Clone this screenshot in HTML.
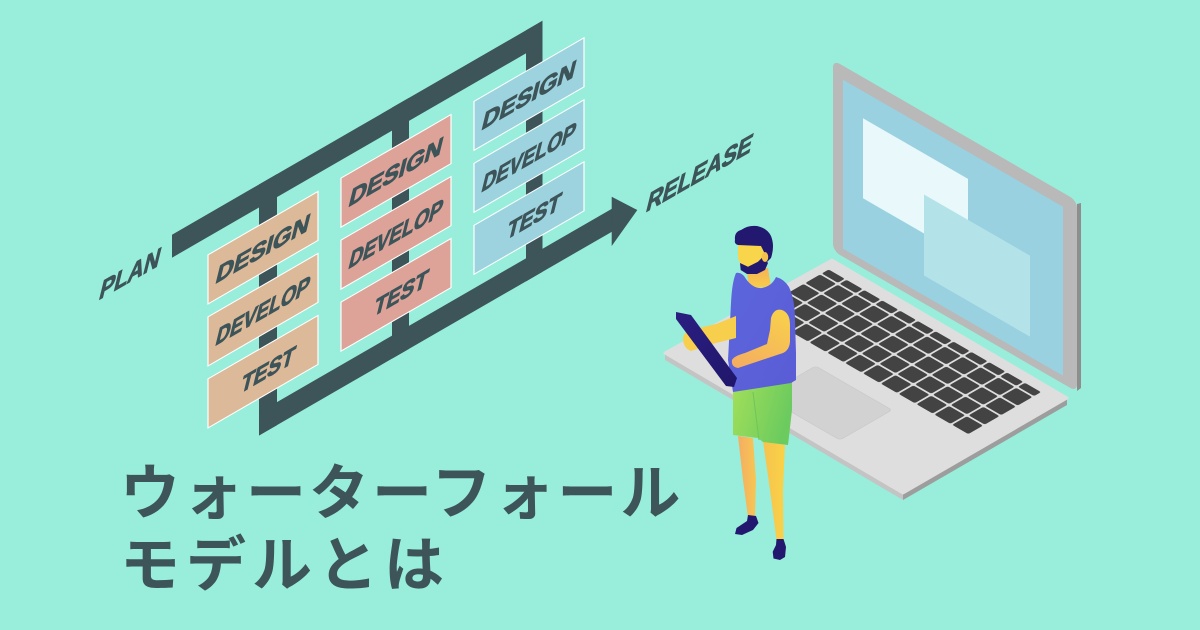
<!DOCTYPE html>
<html>
<head>
<meta charset="utf-8">
<style>
html,body{margin:0;padding:0;background:#98eeda;width:1200px;height:630px;overflow:hidden;}
svg{display:block}
</style>
</head>
<body>
<svg width="1200" height="630" viewBox="0 0 1200 630" xmlns="http://www.w3.org/2000/svg">
<defs>
  <linearGradient id="legL" x1="0" y1="0" x2="1" y2="0">
    <stop offset="0" stop-color="#f4ad62"/><stop offset="1" stop-color="#f7c653"/>
  </linearGradient>
  <linearGradient id="legR" x1="0" y1="0" x2="1" y2="0">
    <stop offset="0" stop-color="#f8c24f"/><stop offset="1" stop-color="#f9d247"/>
  </linearGradient>
  <linearGradient id="shorts" x1="0" y1="0" x2="1" y2="0.3">
    <stop offset="0" stop-color="#a2df5a"/><stop offset="1" stop-color="#6ccb5e"/>
  </linearGradient>
  <linearGradient id="shirt" x1="0" y1="0" x2="1" y2="1">
    <stop offset="0" stop-color="#5c66dd"/><stop offset="1" stop-color="#5a5cd5"/>
  </linearGradient>
  <linearGradient id="arm" x1="0.7" y1="0" x2="0.2" y2="1">
    <stop offset="0" stop-color="#f8cf4c"/><stop offset="1" stop-color="#f4ae60"/>
  </linearGradient>
  <linearGradient id="neck" x1="0" y1="0" x2="0" y2="1">
    <stop offset="0" stop-color="#f5b257"/><stop offset="1" stop-color="#f8cd4b"/>
  </linearGradient>
  <linearGradient id="tab" x1="0" y1="0" x2="1" y2="1">
    <stop offset="0" stop-color="#2a1f82"/><stop offset="1" stop-color="#20166a"/>
  </linearGradient>
  <pattern id="keys" x="10" y="93" width="20.6" height="19" patternUnits="userSpaceOnUse">
    <rect x="1" y="1" width="18.6" height="17" rx="2" fill="#434343"/>
  </pattern>
  <pattern id="keys2" x="10" y="169" width="20.6" height="10" patternUnits="userSpaceOnUse">
    <rect x="1" y="1" width="18.6" height="8" rx="2" fill="#434343"/>
  </pattern>
</defs>

<rect width="1200" height="630" fill="#98eeda"/>

<!-- Waterfall diagram -->
<g transform="matrix(1,-0.57735,0,1,0,0)">
  <g fill="#3d5459">
    <rect x="172" y="334" width="370.5" height="23"/>
    <rect x="259" y="334" width="18" height="251"/>
    <rect x="392" y="334" width="17" height="251"/>
    <rect x="526" y="334" width="16.5" height="251"/>
    <rect x="259" y="562" width="354" height="23"/>
  </g>
  <g stroke="#ffffff" stroke-width="1.2">
    <rect x="208" y="375" width="110" height="49" fill="#dcb998"/>
    <rect x="208" y="437" width="110" height="49" fill="#dcb998"/>
    <rect x="208" y="499" width="110" height="49" fill="#dcb998"/>
    <rect x="341" y="375" width="110" height="49" fill="#dda399"/>
    <rect x="341" y="437" width="110" height="49" fill="#dda399"/>
    <rect x="341" y="499" width="110" height="49" fill="#dda399"/>
    <rect x="474" y="375" width="110" height="49" fill="#9dd3df"/>
    <rect x="474" y="437" width="110" height="49" fill="#9dd3df"/>
    <rect x="474" y="499" width="110" height="49" fill="#9dd3df"/>
  </g>
  <g font-family="'Liberation Sans', Arial, sans-serif" font-weight="bold" fill="#3d5459" stroke="#3d5459" stroke-width="0.9" stroke-linejoin="round" font-size="22">
    <text transform="translate(261,408) skewX(-16)" text-anchor="middle" textLength="93" lengthAdjust="spacingAndGlyphs">DESIGN</text>
    <text transform="translate(261,470) skewX(-16)" text-anchor="middle" textLength="93" lengthAdjust="spacingAndGlyphs">DEVELOP</text>
    <text transform="translate(266,532) skewX(-16)" text-anchor="middle" textLength="53" lengthAdjust="spacingAndGlyphs">TEST</text>
    <text transform="translate(394,408) skewX(-16)" text-anchor="middle" textLength="93" lengthAdjust="spacingAndGlyphs">DESIGN</text>
    <text transform="translate(394,470) skewX(-16)" text-anchor="middle" textLength="93" lengthAdjust="spacingAndGlyphs">DEVELOP</text>
    <text transform="translate(399,532) skewX(-16)" text-anchor="middle" textLength="53" lengthAdjust="spacingAndGlyphs">TEST</text>
    <text transform="translate(527,408) skewX(-16)" text-anchor="middle" textLength="93" lengthAdjust="spacingAndGlyphs">DESIGN</text>
    <text transform="translate(527,470) skewX(-16)" text-anchor="middle" textLength="93" lengthAdjust="spacingAndGlyphs">DEVELOP</text>
    <text transform="translate(532,532) skewX(-16)" text-anchor="middle" textLength="53" lengthAdjust="spacingAndGlyphs">TEST</text>
    <text transform="translate(98,357) skewX(-16)" font-size="24" textLength="60" lengthAdjust="spacingAndGlyphs">PLAN</text>
    <text transform="translate(645,585) skewX(-16)" font-size="24" textLength="105" lengthAdjust="spacingAndGlyphs">RELEASE</text>
  </g>
</g>
<polygon points="611.7,196.7 637.3,210 611.7,246" fill="#3d5459"/>

<!-- Laptop base -->
<polygon points="665,353 903,493 903,500 665,360" fill="#c4c4c4"/>
<polygon points="903,493 1067,398 1067,405 903,500" fill="#9d9d9d"/>
<polygon points="665,353 832,260 1067,398 903,493" fill="#dedede" stroke="#dedede" stroke-width="3" stroke-linejoin="round"/>
<g transform="matrix(0.866,0.5,0.866,-0.5,665,353)">
  <rect x="10" y="93" width="247.2" height="76" fill="url(#keys)"/>
  <rect x="10" y="169" width="247.2" height="10" fill="url(#keys2)"/>
  <rect x="100" y="14" width="88" height="60" rx="3" fill="#d2d2d2" stroke="#cacaca" stroke-width="0.8"/>
</g>

<!-- Laptop lid -->
<g transform="matrix(1,0.57735,0,1,0,0)">
  <rect x="833" y="-421" width="244" height="191" rx="7" fill="#b9b9b9"/>
  <rect x="843" y="-407" width="220" height="169" fill="#99d1e0"/>
  <rect x="863" y="-380" width="105" height="80" fill="#e8f8fb"/>
  <rect x="924" y="-339" width="106" height="81" fill="#b3e3e8"/>
</g>
<polygon points="1077,204 1081,203 1081,388 1077,391" fill="#8e8e8e"/>

<!-- Person -->
<polygon points="738,436 753,438 756,480 755,517 748,517 743,480" fill="url(#legL)"/>
<polygon points="763,441 785,445 783,490 783.5,540 776.5,540 770,490" fill="url(#legR)"/>
<path d="M748,515 L756,516 L758.5,523 L753,530 L742,535 L735,534 L736.5,528 L747,521 Z" fill="#23186f"/>
<path d="M776.5,539 L783.5,539 L786,547 L785,557 L780,560 L773.5,558.5 L772.7,551.7 L776,545 Z" fill="#23186f"/>
<polygon points="733,388 792,381 792,410 788,445 763,442 758,438 733,435" fill="url(#shorts)"/>
<line x1="753" y1="392" x2="759" y2="440" stroke="#70c55a" stroke-width="1"/>

<polygon points="747,272 768,268 771,287 749,288" fill="url(#neck)"/>
<path d="M736,273 Q740,272 744,276 Q752,289 762,288 Q772,286 776,277 Q784,279 789,287 Q795,300 795,320 L796,353 L796,380 L791,383 L733,392 L730,373 L728,360 L731,303 Q732,282 736,273 Z" fill="url(#shirt)"/>

<path d="M738,244 L763,244 L764,262 L758,270 L742,268 L738,258 Z" fill="#f8d54a"/>
<path d="M740,263 L748,266.7 L758,261.7 L763,256.7 L768,263 L765,270 L757,274 L747,274 L740.7,270 Z" fill="#23186f"/>
<path d="M735,240 Q734,232 741,230 Q748,225 757,226 Q767,228 771,236 Q775,246 771,258 L767,262 L764,252 L761,246 L738,245 Q734,244 735,240 Z" fill="#23186f"/>
<ellipse cx="765" cy="257" rx="3.2" ry="5" fill="#f6c04c"/>

<path d="M736,316 L716,324 L695,329 Q684,331 683,338 Q683,348 691,351 L712,344 L736,338 Z" fill="#f8cf4c"/>
<polygon points="676,312 691,315 737,378 734,387 726,386 676,319" fill="url(#tab)"/>
<path d="M771,318 Q774,308 782,310 Q790,313 790,325 L790,342 Q789,352 780,354 L756,362 L738,368 Q731,367 732,360 Q734,356 745,353 L767,344 L770,330 Z" fill="url(#arm)"/>

<!-- Title -->
<g font-family="'Liberation Sans', 'Noto Sans CJK JP', sans-serif" font-weight="700" font-size="60" fill="#3d5459">
  <text x="120" y="514" letter-spacing="3">ウォーターフォール</text>
  <text x="120" y="586" letter-spacing="6">モデルとは</text>
</g>
</svg>
</body>
</html>
